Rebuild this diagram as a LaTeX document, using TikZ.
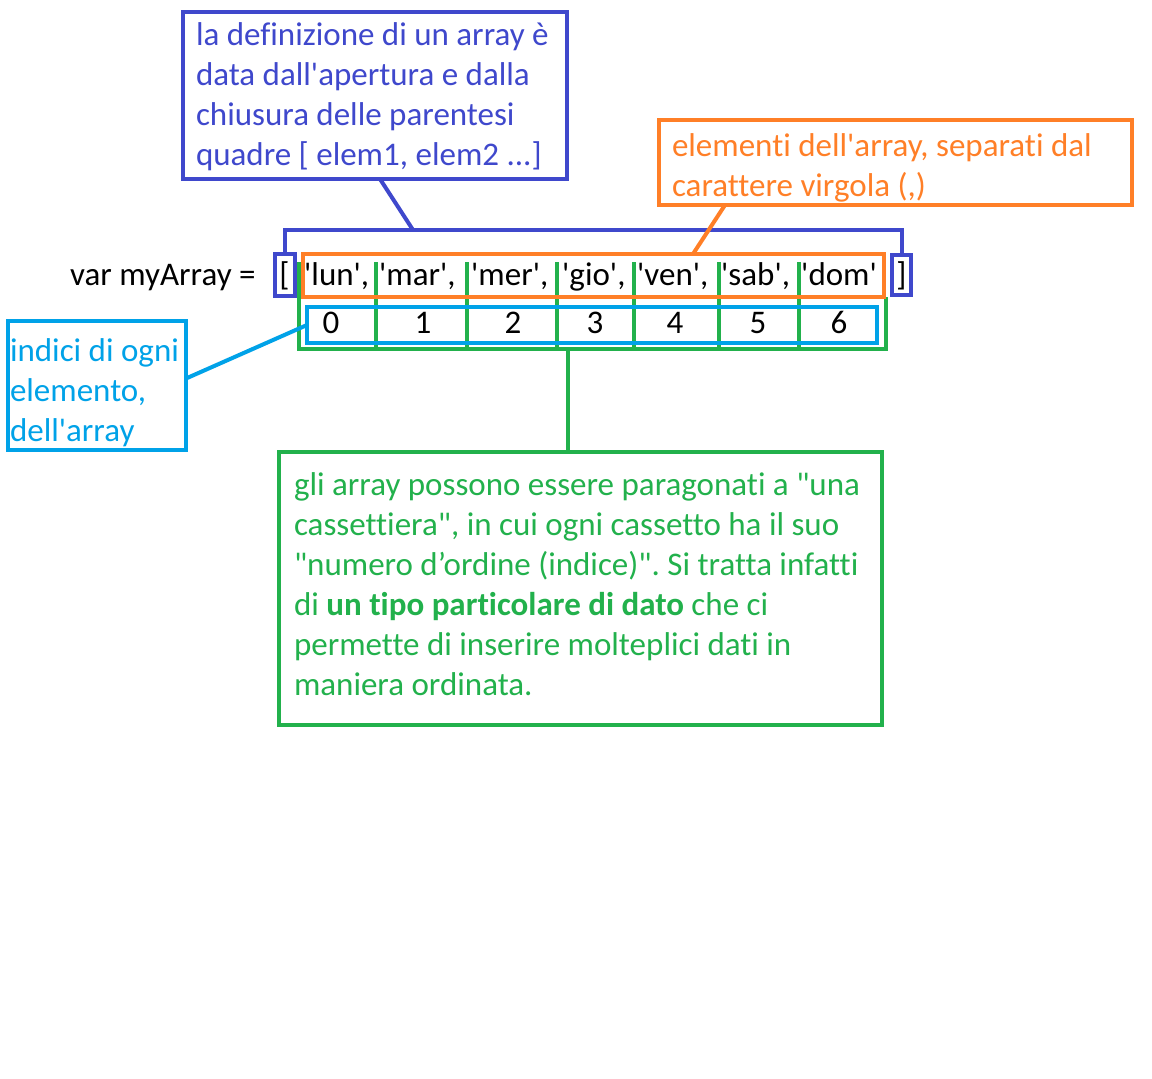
\documentclass[tikz,border=0pt]{standalone}
\usepackage{fontspec}
\setmainfont{Carlito}[Ligatures={TeXOff,NoCommon}]
\newcommand{\diagfont}{\fontsize{33pt}{40pt}\selectfont\frenchspacing}
\definecolor{defblue}{HTML}{3F48CC}
\definecolor{elemorange}{HTML}{FF7F27}
\definecolor{idxblue}{HTML}{00A2E8}
\definecolor{gridgreen}{HTML}{22B14C}

\begin{document}
\begin{tikzpicture}[x=1pt,y=-1pt,
  box/.style={draw,line width=4pt,outer sep=0pt,anchor=north west,align=flush left,inner ysep=0pt,font=\diagfont},
  cell/.style={anchor=base west,inner sep=0pt,font=\diagfont},
  digit/.style={anchor=base,inner sep=0pt,font=\diagfont},
  link/.style={line width=4pt}
]
\useasboundingbox[fill=white] (0,0) rectangle (1152,1079);
% riga del codice
\node[cell] (var) at (70,285) {var myArray =};
\draw[link,gridgreen] (298.5,262) |- (886,349) -- (886,297);
\foreach \x in {375.5,466.5,556.5,633.5,718.5,798.5}
  \draw[link,gridgreen] (\x,262) -- (\x,349);
\coordinate (gridbot) at (568,349);
\node[box,draw=defblue,text=black,inner xsep=0pt,minimum width=20pt,align=center,text height=31pt,text depth=11pt] (lbr) at (274.5,254) {[};
\node[box,draw=defblue,text=black,inner xsep=0pt,minimum width=19pt,align=center,text height=30pt,text depth=10pt] (rbr) at (892,255) {]};
\node[box,draw=elemorange,minimum width=581pt,minimum height=43pt] (row) at (303,254) {};
\node[box,draw=idxblue,minimum width=570pt,minimum height=36pt] (idx) at (307,307) {};
\node[cell] (lun) at (304,285) {'lun',};
\node[cell] (mar) at (379,285) {'mar',};
\node[cell] (mer) at (471,285) {'mer',};
\node[cell] (gio) at (562,285) {'gio',};
\node[cell] (ven) at (637,285) {'ven',};
\node[cell] (sab) at (721,285) {'sab',};
\node[cell] (dom) at (801,285) {'dom'};
\node[digit] (i0) at (331,333) {0};
\node[digit] (i1) at (423,333) {1};
\node[digit] (i2) at (513,333) {2};
\node[digit] (i3) at (595,333) {3};
\node[digit] (i4) at (675,333) {4};
\node[digit] (i5) at (758,333) {5};
\node[digit] (i6) at (839,333) {6};
% note
\node[box,draw=defblue,text=defblue,inner xsep=13pt,text width=358pt,text height=33pt,text depth=134pt] (def) at (183,12) {\mbox{la definizione di un array è}\\data dall'apertura e dalla\\chiusura delle parentesi\\quadre [ elem1, elem2 ...]};
\node[box,draw=elemorange,text=elemorange,inner xsep=13pt,text width=447pt,text height=36pt,text depth=49pt] (elem) at (659,120) {elementi dell'array, separati dal\\carattere virgola (,)};
\node[box,draw=idxblue,text=idxblue,inner xsep=2pt,text width=174pt,text height=40pt,text depth=89pt] (idxdesc) at (8,321) {\mbox{indici di ogni}\\elemento,\\dell'array};
\node[box,draw=gridgreen,text=gridgreen,inner xsep=15pt,text width=573pt,text height=43pt,text depth=230pt] (note) at (279,452) {\mbox{gli array possono essere paragonati a "una}\\\mbox{cassettiera", in cui ogni cassetto ha il suo}\\\mbox{"numero d’ordine (indice)". Si tratta infatti}\\di \textbf{un tipo particolare di dato} che ci\\permette di inserire molteplici dati in\\maniera ordinata.};
% collegamenti
\coordinate (brtop) at (413,230);
\draw[link,defblue] (lbr.north) |- (brtop) -| (rbr.north);
\draw[link,defblue] ([xshift=5pt]def.south) -- (brtop);
\draw[link,elemorange] ([xshift=66pt]elem.south west) -- ([xshift=390pt]row.north west);
\draw[link,idxblue] ([yshift=7pt]idxdesc.east) -- (idx.west);
\draw[link,gridgreen] (gridbot) -- ([xshift=-12.5pt]note.north);
\end{tikzpicture}
\end{document}
